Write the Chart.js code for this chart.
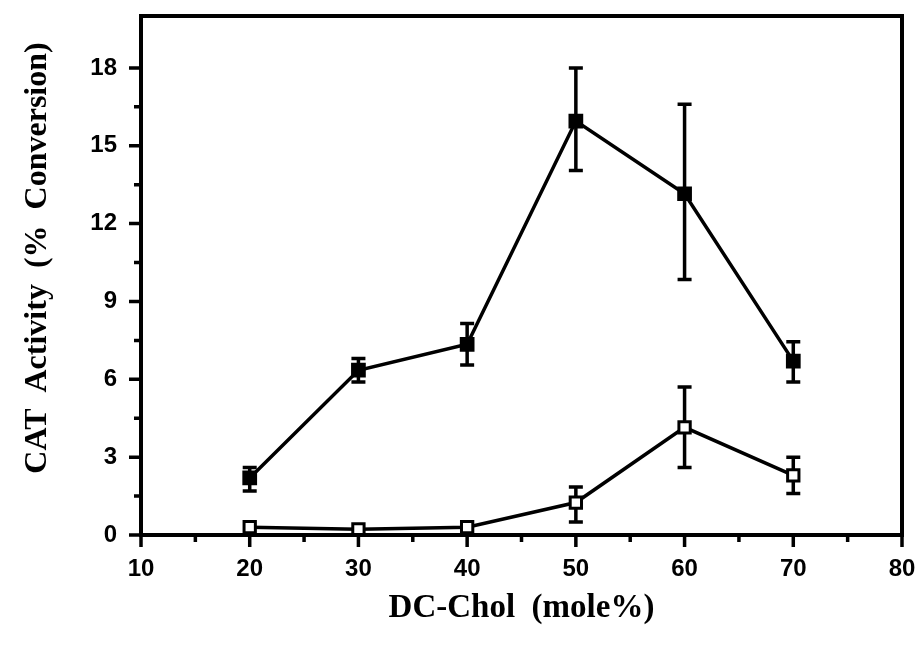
<!DOCTYPE html>
<html>
<head>
<meta charset="utf-8">
<script src="https://cdn.jsdelivr.net/npm/chart.js@4.4.0/dist/chart.umd.min.js"></script>
<style>
  html, body { margin: 0; padding: 0; background: #fff; }
  #wrap { width: 922px; height: 646px; }
</style>
</head>
<body>
<div id="wrap"><canvas id="chart" width="922" height="646"></canvas></div>
<script>
// ── data ──
const xValues    = [20, 30, 40, 50, 60, 70];
const filledMean = [2.2, 6.35, 7.35, 15.95, 13.15, 6.7];
const filledLow  = [1.7, 5.9, 6.55, 14.05, 9.85, 5.9];
const filledHigh = [2.6, 6.8, 8.15, 18.0, 16.6, 7.45];
const openMean   = [0.3, 0.22, 0.3, 1.25, 4.15, 2.3];
const openLow    = [null, null, null, 0.5, 2.6, 1.6];
const openHigh   = [null, null, null, 1.85, 5.7, 3.0];

const xTitle = 'DC-Chol  (mole%)';
const yTitle = 'CAT  Activity  (%  Conversion)';

const toPoints = ys => xValues.map((x, i) => ({ x, y: ys[i] }));
const isMult = (v, s) => Math.abs(v / s - Math.round(v / s)) < 1e-6;

// error bars, drawn under the lines and markers
const errorBars = {
  id: 'errorBars',
  beforeDatasetsDraw(chart) {
    const { ctx, scales: { x, y } } = chart;
    ctx.save();
    ctx.strokeStyle = '#000';
    ctx.lineWidth = 3.5;
    [[filledLow, filledHigh], [openLow, openHigh]].forEach(([lo, hi]) => {
      xValues.forEach((xv, i) => {
        if (lo[i] == null) return;
        const px = x.getPixelForValue(xv);
        const p1 = y.getPixelForValue(lo[i]);
        const p2 = y.getPixelForValue(hi[i]);
        ctx.beginPath();
        ctx.moveTo(px, p1); ctx.lineTo(px, p2);
        ctx.moveTo(px - 7, p1); ctx.lineTo(px + 7, p1);
        ctx.moveTo(px - 7, p2); ctx.lineTo(px + 7, p2);
        ctx.stroke();
      });
    });
    ctx.restore();
  }
};

// frame, outward tick marks and the rotated y title
const frame = {
  id: 'frame',
  afterDraw(chart) {
    const { ctx, chartArea: a, scales: { x, y } } = chart;
    ctx.save();
    ctx.strokeStyle = '#000';
    ctx.lineWidth = 4;
    ctx.strokeRect(a.left, a.top, a.right - a.left, a.bottom - a.top);

    ctx.lineWidth = 3.5;
    ctx.beginPath();
    x.ticks.forEach(t => {
      if (!isMult(t.value, 5)) return;
      const px = x.getPixelForValue(t.value);
      const len = isMult(t.value, 10) ? 12 : 7;
      ctx.moveTo(px, a.bottom); ctx.lineTo(px, a.bottom + len);
    });
    y.ticks.forEach(t => {
      if (!isMult(t.value, 1.5)) return;
      const py = y.getPixelForValue(t.value);
      const len = isMult(t.value, 3) ? 12 : 7;
      ctx.moveTo(a.left, py); ctx.lineTo(a.left - len, py);
    });
    ctx.stroke();

    ctx.fillStyle = '#000';
    ctx.font = 'bold 32px "Liberation Serif", "Times New Roman", serif';
    ctx.textAlign = 'center';
    ctx.textBaseline = 'middle';
    ctx.translate(38, 258);
    ctx.rotate(-Math.PI / 2);
    ctx.fillText(yTitle, 0, 0);
    ctx.restore();
  }
};

const tickFont = { family: '"Liberation Sans", Arial, sans-serif', size: 24, weight: 'bold' };

new Chart(document.getElementById('chart'), {
  type: 'line',
  data: {
    datasets: [
      {
        data: toPoints(filledMean),
        borderColor: '#000', borderWidth: 3.5, tension: 0, fill: false,
        pointStyle: 'rect', pointRadius: 9,
        pointBackgroundColor: '#000', pointBorderColor: '#000', pointBorderWidth: 2
      },
      {
        data: toPoints(openMean),
        borderColor: '#000', borderWidth: 3.5, tension: 0, fill: false,
        pointStyle: 'rect', pointRadius: 8,
        pointBackgroundColor: '#fff', pointBorderColor: '#000', pointBorderWidth: 3
      }
    ]
  },
  options: {
    responsive: false,
    animation: false,
    devicePixelRatio: 1,
    layout: { padding: { top: 16, right: 20, left: 0, bottom: 0 } },
    plugins: { legend: { display: false }, tooltip: { enabled: false } },
    scales: {
      x: {
        type: 'linear', min: 10, max: 80,
        grid: { display: false, drawTicks: false },
        border: { display: false },
        ticks: {
          stepSize: 5, autoSkip: false, maxRotation: 0, padding: 20,
          color: '#000', font: tickFont,
          callback: v => isMult(v, 10) ? v : ''
        },
        title: {
          display: true, text: xTitle, color: '#000',
          font: { family: '"Liberation Serif", "Times New Roman", serif', size: 33, weight: 'bold' },
          padding: { top: 0, bottom: 18 }
        },
        afterFit: s => { s.height = 111; s.paddingLeft = 0; s.paddingRight = 0; }
      },
      y: {
        type: 'linear', min: 0, max: 20,
        grid: { display: false, drawTicks: false },
        border: { display: false },
        ticks: {
          stepSize: 1.5, autoSkip: false, padding: 24,
          color: '#000', font: tickFont,
          callback: v => isMult(v, 3) ? v : ''
        },
        afterFit: s => { s.width = 141; s.paddingTop = 0; s.paddingBottom = 0; }
      }
    }
  },
  plugins: [errorBars, frame]
});
</script>
</body>
</html>
